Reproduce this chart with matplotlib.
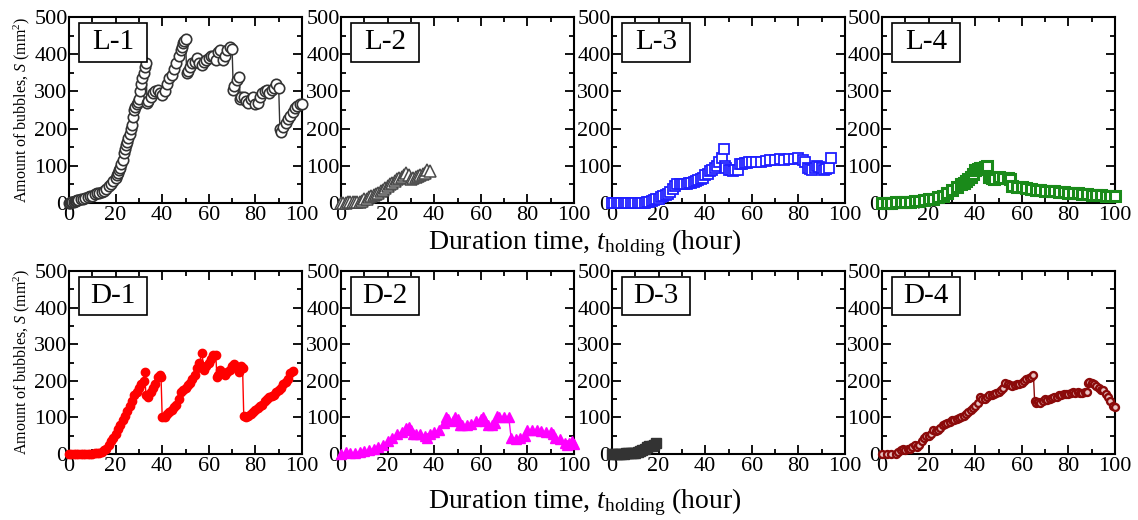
import matplotlib
matplotlib.use("Agg")
import matplotlib.pyplot as plt
from matplotlib.patches import Rectangle
from matplotlib.ticker import MultipleLocator

plt.rcParams['font.family'] = ['Liberation Serif', 'DejaVu Serif']
plt.rcParams['mathtext.fontset'] = 'custom'
plt.rcParams['mathtext.rm'] = 'Liberation Serif'
plt.rcParams['mathtext.it'] = 'Liberation Serif:italic'

# ---------------- data ----------------
panel_labels = ["L-1", "L-2", "L-3", "L-4", "D-1", "D-2", "D-3", "D-4"]

l1_t = [0, 0.5, 1, 1.5, 2, 2.5, 3, 3.5, 4, 5, 6, 7, 8, 9, 10, 11, 12, 13, 14, 15,
        16, 17, 18, 19, 20, 20.5, 21, 21.5, 22, 22.5, 23, 23.5, 24, 24.5, 25, 25.5, 26, 26.5,
        27, 27.5, 28, 28.5, 29, 29.5, 30, 30.5, 31, 31.5, 32, 32.5, 33,
        33.5, 34, 35, 36, 37, 38, 39, 40, 41, 42, 43, 44, 45, 46, 47, 48, 48.5, 49, 49.5, 50,
        50.5, 51, 52, 53, 54, 55, 56, 57, 58, 59, 60, 61, 62, 63, 64, 65, 66, 67, 68, 69, 70,
        70.5, 71, 72, 73, 73.5, 74, 75, 76, 77, 78, 79, 80, 81, 82, 83, 84, 85, 86, 87, 88, 89, 90,
        90.5, 91, 92, 93, 94, 95, 96, 97, 98, 99, 100]
l1_s = [0, 1, 2, 3, 4, 5, 6, 7, 8, 10, 12, 14, 16, 18, 20, 23, 26, 28, 30, 33,
        38, 45, 52, 60, 68, 74, 80, 88, 95, 105, 115, 135, 145, 155, 165, 175, 185, 198,
        210, 230, 250, 258, 265, 272, 280, 300, 320, 335, 350, 365, 375,
        270, 275, 285, 295, 300, 305, 295, 290, 300, 320, 335, 345, 360, 375, 395, 410, 420, 430, 435, 440,
        350, 355, 365, 375, 380, 390, 375, 370, 380, 385, 390, 395, 395, 385, 405, 410, 385, 395, 410, 420, 415,
        305, 315, 330, 340, 280, 285, 285, 275, 270, 280, 285, 265, 270, 285, 295, 300, 305, 295, 305, 310, 320, 310,
        200, 190, 205, 215, 225, 235, 245, 255, 260, 265, 265]

l2_t = [0, 1, 2, 3, 4, 5, 6, 7, 8, 9, 10, 11, 12, 13, 14, 15, 16, 17, 18, 19, 20, 21, 22, 23,
        24, 25, 26, 27, 28, 29, 30, 31, 32, 33, 34, 35, 36, 37, 38]
l2_s = [0, 1, 1, 2, 2, 2, 3, 3, 3, 5, 10, 12, 15, 18, 22, 25, 28, 32, 35, 40, 45, 50, 55, 58,
        65, 68, 70, 75, 80, 75, 65, 68, 70, 72, 75, 78, 80, 90, 85]

l3_t = [0, 1, 2, 3, 4, 5, 6, 7, 8, 9, 10, 11, 12, 13, 14, 15, 16, 17, 18, 19, 20, 21, 22, 23,
        24, 25, 26, 27, 28, 29, 30, 31, 32, 33, 34, 35, 36, 37, 38, 39, 40, 41, 42, 43, 44, 45,
        46, 47, 48, 48.5, 49, 50, 51, 52, 53, 54, 55, 56, 57, 58, 59, 60, 62, 64, 66, 68, 70,
        72, 74, 76, 78, 80, 82, 83, 84, 85, 86, 87, 88, 89, 90, 91, 92, 93, 94]
l3_s = [0, 0, 0, 0, 0, 0, 0, 0, 0, 0, 0, 0, 0, 0, 1, 2, 3, 5, 8, 10, 12, 15, 18, 22,
        25, 30, 38, 45, 50, 52, 50, 50, 52, 53, 55, 57, 60, 62, 65, 68, 75, 78, 85, 90, 95, 100,
        110, 120, 145, 100, 95, 90, 88, 85, 88, 90, 105, 106, 108, 108, 110, 110, 110, 110, 112, 115, 115,
        118, 115, 118, 118, 120, 115, 110, 95, 92, 90, 95, 100, 98, 95, 90, 92, 95, 120]

l4_t = [0, 2, 4, 6, 8, 10, 12, 14, 16, 18, 20, 22, 24, 26, 28, 30, 32, 34, 35, 36, 37, 38, 39, 40,
        41, 42, 43, 44, 45, 46, 47, 48, 50, 52, 54, 55, 56, 58, 60, 62, 64, 66, 68, 70, 72, 74,
        76, 78, 80, 82, 84, 86, 88, 90, 92, 94, 96, 98, 100]
l4_s = [0, 1, 1, 2, 2, 3, 4, 5, 6, 8, 10, 12, 15, 20, 28, 35, 42, 50, 55, 60, 65, 70, 78, 88,
        92, 95, 95, 98, 100, 70, 66, 65, 70, 68, 66, 65, 45, 44, 42, 40, 38, 36, 34, 32, 32, 31,
        30, 29, 28, 27, 26, 25, 24, 22, 22, 21, 20, 20, 20]

d1_t = [0, 1, 2, 3, 4, 5, 6, 7, 8, 9, 10, 11, 12, 13, 14, 15, 16, 17, 18, 19, 20, 21, 22, 23,
        24, 25, 26, 27, 28, 29, 30, 31, 32, 32.5, 33, 34, 35, 36, 37, 38, 39, 39.5,
        40, 41, 42, 43, 44, 45, 46, 47, 48, 49, 50, 51, 52, 53, 54, 55, 56, 57, 58, 59, 60,
        61, 62, 63, 63.5, 64, 65, 66, 67, 68, 69, 70, 71, 72, 73, 74, 74.5,
        75, 76, 77, 78, 79, 80, 81, 82, 83, 84, 85, 86, 87, 88, 89, 90, 91, 92, 93, 94, 95, 96]
d1_s = [0, 0, 0, 0, 0, 0, 0, 0, 0, 1, 1, 2, 3, 4, 6, 10, 15, 24, 35, 45, 55, 68, 80, 92,
        105, 118, 130, 145, 160, 170, 180, 190, 200, 225, 160, 155, 170, 180, 190, 210, 215, 210,
        100, 100, 110, 115, 120, 128, 135, 150, 170, 175, 180, 188, 195, 205, 215, 235, 250, 275, 230, 240, 250,
        260, 270, 270, 210, 215, 230, 220, 215, 225, 230, 240, 245, 235, 225, 240, 235,
        105, 100, 105, 110, 115, 120, 125, 130, 135, 145, 150, 155, 158, 160, 170, 175, 180, 190, 198, 205, 220, 228]

d2_t = [0, 2, 4, 6, 8, 10, 12, 14, 16, 18, 20, 22, 24, 26, 28, 29, 30, 31, 32, 34, 36, 37, 38, 40,
        42, 44, 45, 46, 48, 49, 50, 51, 52, 54, 56, 58, 60, 61, 62, 63, 65, 66, 67, 68, 70, 72,
        73, 75, 77, 79, 80, 82, 84, 86, 88, 90, 91, 92, 94, 96, 97, 98, 99, 100]
d2_s = [0, 5, 3, 4, 5, 8, 10, 15, 20, 25, 35, 45, 55, 60, 70, 75, 65, 55, 55, 55, 50, 45, 55, 60,
        65, 85, 100, 95, 90, 100, 95, 80, 78, 80, 82, 90, 95, 100, 90, 80, 80, 85, 105, 100, 100, 100,
        45, 42, 45, 50, 65, 65, 65, 62, 60, 60, 55, 45, 40, 30, 25, 30, 35, 28]

d3_t = [0, 1, 2, 3, 4, 5, 6, 7, 8, 9, 10, 11, 12, 13, 14, 15, 16, 17, 18, 19]
d3_s = [0, 0, 0, 1, 1, 1, 2, 2, 3, 3, 4, 5, 7, 10, 15, 20, 22, 23, 25, 30]

d4_t = [0, 2, 4, 6, 7, 8, 9, 10, 11, 12, 13, 14, 15, 16, 17, 18, 19, 20, 21, 22, 23, 24, 25, 26,
        27, 28, 29, 30, 31, 32, 33, 34, 35, 36, 37, 38, 39, 40, 41, 42, 43, 44, 45, 46, 47, 48,
        49, 50, 51, 52, 53, 54, 55, 56, 57, 58, 59, 60, 61, 62, 63, 64, 65,
        65.5, 66, 67, 68, 69, 70, 71, 72, 73, 74, 75, 76, 77, 78, 79, 80, 81, 82, 83, 84, 85, 86, 87, 88,
        88.5, 89, 90, 91, 92, 93, 94, 95, 96, 97, 98, 99, 100]
d4_s = [0, 0, 0, 0, 5, 10, 15, 12, 13, 15, 20, 25, 20, 25, 35, 45, 48, 50, 55, 65, 63, 65, 70, 80,
        82, 85, 88, 92, 92, 95, 98, 100, 105, 110, 115, 120, 125, 130, 140, 155, 150, 150, 155, 160, 162, 165,
        168, 170, 175, 180, 195, 190, 188, 185, 188, 190, 192, 195, 200, 205, 207, 210, 215,
        145, 140, 142, 140, 145, 150, 148, 150, 152, 155, 157, 160, 162, 165, 164, 165, 167, 170, 168, 170, 168, 168, 169, 170,
        195, 196, 195, 192, 185, 180, 175, 175, 165, 155, 145, 130, 128]

series = [
    (l1_t, l1_s, dict(marker='o', ms=7.5, mfc='white', mec='#333333', mew=1.2, color='#333333')),
    (l2_t, l2_s, dict(marker='^', ms=8, mfc='white', mec='#4a4a4a', mew=1.1, color='#4a4a4a')),
    (l3_t, l3_s, dict(marker='s', ms=7, mfc='white', mec='#1f1fff', mew=1.3, color='#1f1fff')),
    (l4_t, l4_s, dict(marker='s', ms=7, mfc='white', mec='#1a8a1a', mew=2.2, color='#1a8a1a')),
    (d1_t, d1_s, dict(marker='o', ms=6, mfc='#ff0000', mec='#ff0000', mew=1.0, color='#ff0000')),
    (d2_t, d2_s, dict(marker='^', ms=7, mfc='#ff00ff', mec='#ff00ff', mew=1.0, color='#ff00ff')),
    (d3_t, d3_s, dict(marker='s', ms=6.5, mfc='#333333', mec='#333333', mew=1.0, color='#333333')),
    (d4_t, d4_s, dict(marker='o', ms=5, mfc='#e8c4c4', mec='#8b0a0a', mew=1.7, color='#8b0a0a')),
]

# ---------------- layout ----------------
W, H = 1138, 520
fig = plt.figure(figsize=(W / 100, H / 100), dpi=100)
lefts = [69, 341, 612, 882]
aw = 233
rows = [(17, 203), (271, 454)]

for i, (t, s, style) in enumerate(series):
    r, c = divmod(i, 4)
    top, bot = rows[r]
    ax = fig.add_axes([lefts[c] / W, 1 - bot / H, aw / W, (bot - top) / H])
    ax.plot(t, s, linestyle='-', lw=1.0, clip_on=False, zorder=3, **style)
    ax.set_xlim(0, 100)
    ax.set_ylim(0, 500)
    ax.xaxis.set_major_locator(MultipleLocator(20))
    ax.xaxis.set_minor_locator(MultipleLocator(10))
    ax.yaxis.set_major_locator(MultipleLocator(100))
    ax.yaxis.set_minor_locator(MultipleLocator(50))
    ax.tick_params(which='both', direction='in', top=True, right=True, width=1.3,
                   labelsize=16)
    ax.tick_params(which='major', length=6.5)
    ax.tick_params(which='minor', length=3.5)
    ax.tick_params(axis='y', pad=1)
    ax.tick_params(axis='x', pad=2)
    for sp in ax.spines.values():
        sp.set_linewidth(1.5)
    ax.add_patch(Rectangle((0.043, 0.758), 0.292, 0.21, transform=ax.transAxes,
                           facecolor='white', edgecolor='black', lw=1.2, zorder=5))
    ax.text(0.189, 0.863, panel_labels[i], transform=ax.transAxes, ha='center', va='center',
            fontsize=21, zorder=6)

# axis titles
for (top, bot), ylab_y in zip(rows, [110, 362]):
    fig.text(22 / W, 1 - ylab_y / H, r'Amount of bubbles, $S$ (mm$^2$)', rotation=90,
             ha='center', va='center', fontsize=11.5)
fig.text(585 / W, 1 - 249 / H, r'Duration time, $t_{\rm holding}$ (hour)', ha='center',
         va='baseline', fontsize=20)
fig.text(585 / W, 1 - 508 / H, r'Duration time, $t_{\rm holding}$ (hour)', ha='center',
         va='baseline', fontsize=20)

fig.savefig('out.png', dpi=100)
